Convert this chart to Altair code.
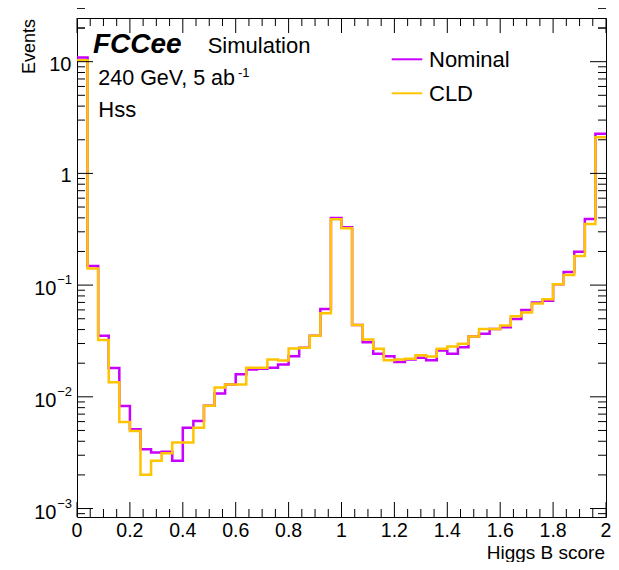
import altair as alt
import pandas as pd

# ---------------- data ----------------
bin_edges = [round(i * 0.04, 2) for i in range(51)]

nominal = [10.9, 0.148, 0.0353, 0.0181, 0.00826, 0.00513, 0.0034, 0.00318, 0.00322, 0.00268,
           0.0053, 0.00608, 0.00832, 0.0107, 0.0129, 0.0159, 0.0176, 0.0178, 0.0182, 0.0195,
           0.0231, 0.0275, 0.0353, 0.0612, 0.399, 0.330, 0.0440, 0.0308, 0.0243, 0.0231,
           0.0205, 0.0216, 0.0224, 0.0212, 0.0260, 0.0243, 0.0278, 0.0346, 0.0366, 0.0405,
           0.0419, 0.0497, 0.0598, 0.0699, 0.0723, 0.1017, 0.131, 0.199, 0.390, 2.26]

cld = [10.3, 0.141, 0.0323, 0.0135, 0.00596, 0.00495, 0.00201, 0.00268, 0.00313, 0.0039,
       0.0039, 0.0053, 0.00832, 0.0121, 0.0129, 0.0129, 0.0182, 0.0182, 0.0216, 0.0211,
       0.0271, 0.0275, 0.0353, 0.0560, 0.388, 0.322, 0.0440, 0.0326, 0.0269, 0.0212,
       0.0216, 0.0219, 0.0235, 0.0230, 0.0269, 0.0282, 0.0298, 0.0346, 0.0405, 0.0405,
       0.0434, 0.0525, 0.0570, 0.0685, 0.0749, 0.1017, 0.123, 0.182, 0.352, 2.11]

series_names = ["Nominal", "CLD"]
series_colors = ["#c800ff", "#ffc400"]

x_major = [0, 0.2, 0.4, 0.6, 0.8, 1.0, 1.2, 1.4, 1.6, 1.8, 2.0]
x_labels = ["0", "0.2", "0.4", "0.6", "0.8", "1", "1.2", "1.4", "1.6", "1.8", "2"]
x_minor = [0.05, 0.1, 0.15, 0.25, 0.3, 0.35, 0.45, 0.5, 0.55, 0.65, 0.7, 0.75,
           0.85, 0.9, 0.95, 1.05, 1.1, 1.15, 1.25, 1.3, 1.35, 1.45, 1.5, 1.55,
           1.65, 1.7, 1.75, 1.85, 1.9, 1.95]

y_major = [0.001, 0.01, 0.1, 1, 10]
y_minor = [m * 10.0 ** k for k in range(-3, 2) for m in range(2, 10)] + [0.0009, 20]
y_plain_vals = [10, 1]
y_plain_labels = ["10", "1"]
y_exp_vals = [0.1, 0.01, 0.001]
y_exp_base = ["10", "10", "10"]
y_exp_power = ["\u22121", "\u22122", "\u22123"]

x_title = "Higgs B score"
y_title = "Events"

W, H = 529, 499
FONT = "Liberation Sans"

xs = alt.Scale(domain=[0, 2], nice=False, zero=False)
ys = alt.Scale(type="log", domain=[8.4e-4, 24.6], nice=False)


def steps(vals, name):
    rows = [{"x": bin_edges[i], "y": vals[i], "s": name} for i in range(len(vals))]
    rows.append({"x": bin_edges[-1], "y": vals[-1], "s": name})
    return pd.DataFrame(rows)


layers = []

# histogram step lines
for vals, name, col in [(nominal, series_names[0], series_colors[0]),
                        (cld, series_names[1], series_colors[1])]:
    layers.append(
        alt.Chart(steps(vals, name)).mark_line(
            interpolate="step-after", color=col, strokeWidth=2.5, clip=True
        ).encode(
            x=alt.X("x:Q", scale=xs, axis=None),
            y=alt.Y("y:Q", scale=ys, axis=None),
        )
    )

# ticks (inside, all four sides)
dxM = pd.DataFrame({"v": x_major})
dxm = pd.DataFrame({"v": x_minor})
dyM = pd.DataFrame({"v": y_major})
dym = pd.DataFrame({"v": y_minor})
tick = dict(color="black", strokeWidth=1)
for d, L in [(dxM, 15), (dxm, 8)]:
    layers.append(alt.Chart(d).mark_rule(**tick).encode(
        x=alt.X("v:Q", scale=xs, axis=None), y=alt.value(H), y2=alt.value(H - L)))
    layers.append(alt.Chart(d).mark_rule(**tick).encode(
        x=alt.X("v:Q", scale=xs, axis=None), y=alt.value(0), y2=alt.value(L)))
for d, L in [(dyM, 16), (dym, 8)]:
    layers.append(alt.Chart(d).mark_rule(**tick).encode(
        y=alt.Y("v:Q", scale=ys, axis=None), x=alt.value(0), x2=alt.value(L)))
    layers.append(alt.Chart(d).mark_rule(**tick).encode(
        y=alt.Y("v:Q", scale=ys, axis=None), x=alt.value(W), x2=alt.value(W - L)))

# x tick labels
layers.append(alt.Chart(pd.DataFrame({"v": x_major, "t": x_labels})).mark_text(
    font=FONT, fontSize=19.5, align="center", baseline="alphabetic", color="black"
).encode(x=alt.X("v:Q", scale=xs, axis=None), y=alt.value(H + 20), text="t:N"))

# y tick labels
layers.append(alt.Chart(pd.DataFrame({"v": y_plain_vals, "t": y_plain_labels})).mark_text(
    font=FONT, fontSize=20, align="right", baseline="middle", dy=3, color="black"
).encode(y=alt.Y("v:Q", scale=ys, axis=None), x=alt.value(-5.5), text="t:N"))
layers.append(alt.Chart(pd.DataFrame({"v": y_exp_vals, "t": y_exp_base})).mark_text(
    font=FONT, fontSize=20, align="right", baseline="middle", dy=4, color="black"
).encode(y=alt.Y("v:Q", scale=ys, axis=None), x=alt.value(-20.5), text="t:N"))
layers.append(alt.Chart(pd.DataFrame({"v": y_exp_vals, "t": y_exp_power})).mark_text(
    font=FONT, fontSize=13, align="right", baseline="middle", dy=-5, color="black"
).encode(y=alt.Y("v:Q", scale=ys, axis=None), x=alt.value(-5), text="t:N"))

# axis titles
one = pd.DataFrame({"a": [0]})
layers.append(alt.Chart(one).mark_text(
    font=FONT, fontSize=19, align="right", baseline="alphabetic", color="black", text=x_title
).encode(x=alt.value(528), y=alt.value(H + 41.5)))
layers.append(alt.Chart(one).mark_text(
    font=FONT, fontSize=18, align="right", baseline="alphabetic", angle=270, color="black",
    text=y_title
).encode(x=alt.value(-42), y=alt.value(1)))

# labels in the plot
texts = [
    ("FCCee", 16, 35, 28, "bold", "italic"),
    ("Simulation", 130.7, 35, 22, "normal", "normal"),
    ("240 GeV, 5 ab", 21.3, 67, 21.5, "normal", "normal"),
    ("-1", 161, 59, 13, "normal", "normal"),
    ("Hss", 21.3, 99, 22, "normal", "normal"),
]
for t, x, y, fs, fw, fst in texts:
    layers.append(alt.Chart(one).mark_text(
        font=FONT, fontSize=fs, fontWeight=fw, fontStyle=fst, align="left",
        baseline="alphabetic", color="black", text=t
    ).encode(x=alt.value(x), y=alt.value(y)))

# legend
for name, col, ly in [(series_names[0], series_colors[0], 41.3),
                      (series_names[1], series_colors[1], 75.3)]:
    layers.append(alt.Chart(one).mark_rule(color=col, strokeWidth=2).encode(
        x=alt.value(314.7), x2=alt.value(345.3), y=alt.value(ly)))
    layers.append(alt.Chart(one).mark_text(
        font=FONT, fontSize=22, align="left", baseline="alphabetic", color="black", text=name
    ).encode(x=alt.value(352), y=alt.value(ly + 8)))

chart = alt.layer(*layers).properties(
    width=W, height=H,
    padding={"left": 69, "top": 10, "right": 5, "bottom": 45},
    autosize=alt.AutoSizeParams(type="none"),
    background="white",
).configure_view(stroke="black", strokeWidth=1)

chart.save("out.html", embed_options={"renderer": "svg", "actions": False})
